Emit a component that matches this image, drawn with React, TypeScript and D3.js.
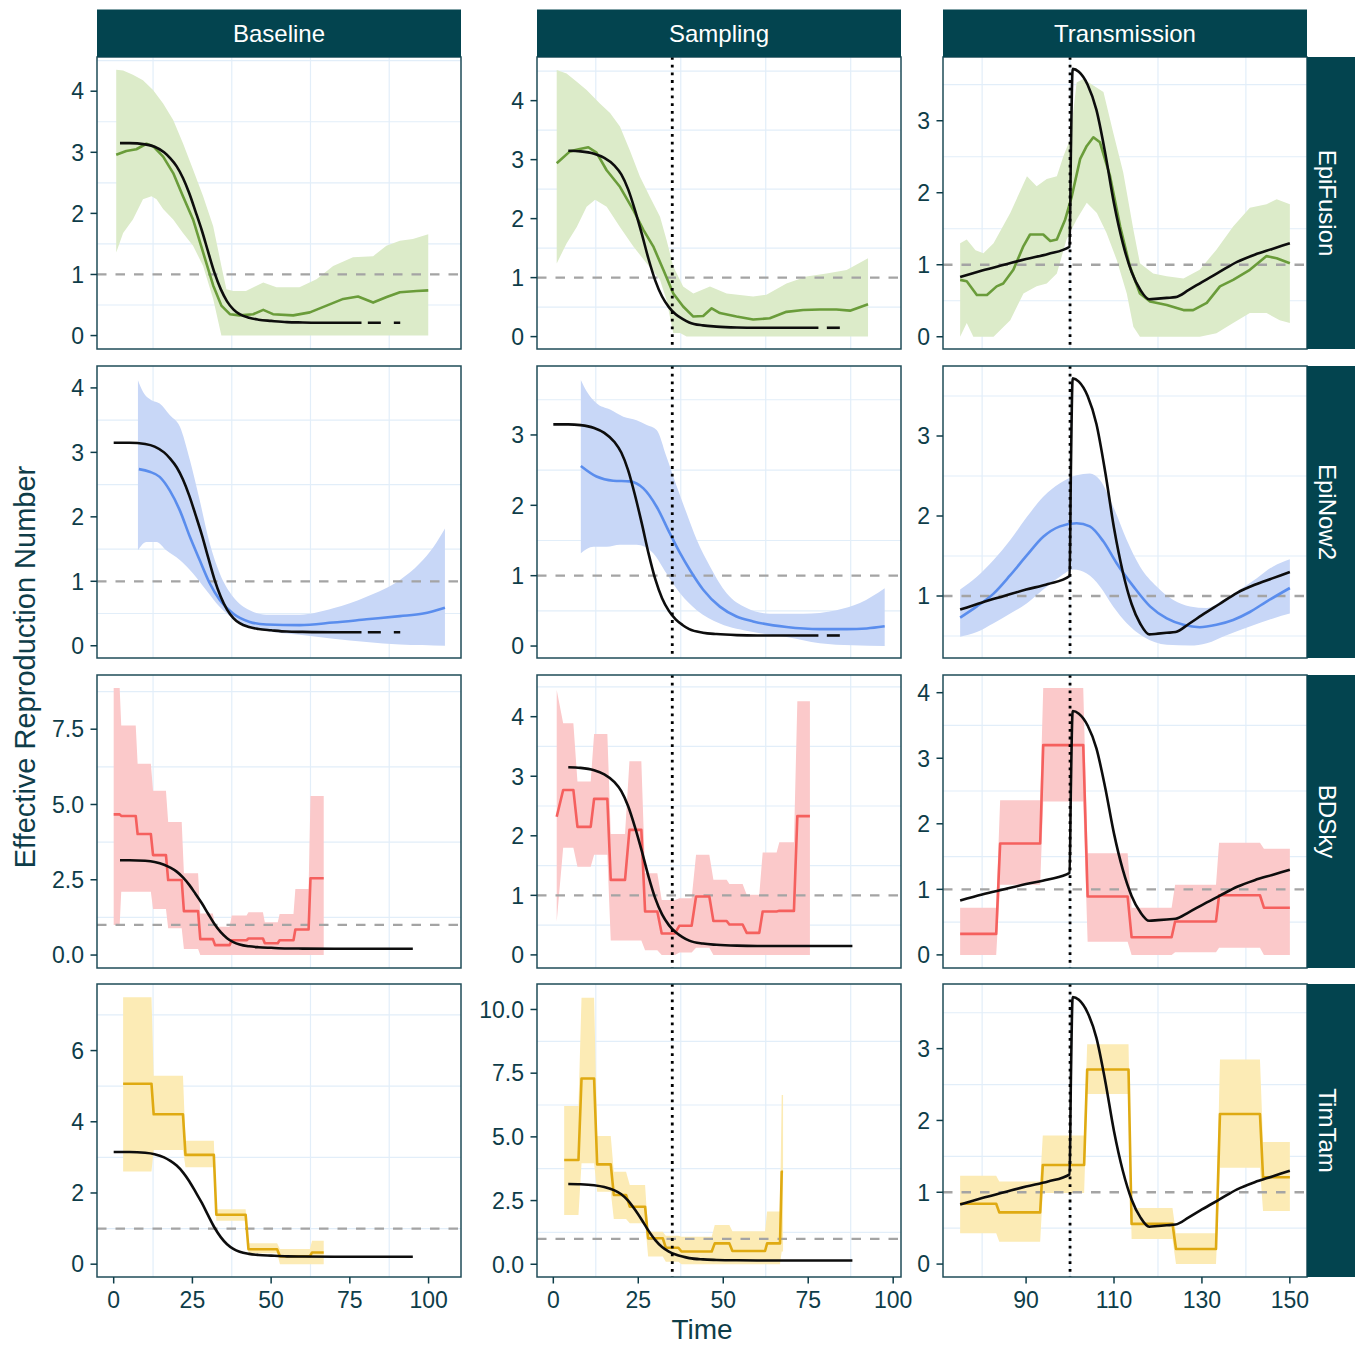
import React, { useEffect, useRef } from 'react';
import * as d3 from 'd3';

// facet labels
const columns = ['Baseline', 'Sampling', 'Transmission'];
const methods = ['EpiFusion', 'EpiNow2', 'BDSky', 'TimTam'];
const xTicks = [[0, 25, 50, 75, 100], [0, 25, 50, 75, 100], [90, 110, 130, 150]];
const interventionT = [null, 35, 100];
const threshold = 1;

// true Rt curves (time, value)
const baseTruthT = [0, 2, 5, 10, 13, 16, 18, 20, 22, 24, 26, 28, 30, 32, 34, 36, 38, 40, 43, 46, 50, 55, 60, 70, 78.7, 91, 95];
const baseTruthR = [3.15, 3.15, 3.15, 3.13, 3.09, 3.0, 2.9, 2.77, 2.58, 2.33, 2.03, 1.72, 1.37, 1.03, 0.76, 0.56, 0.43, 0.35, 0.29, 0.26, 0.24, 0.22, 0.215, 0.21, 0.21, 0.21, 0.21];
const sampTruthT = [0, 4.4, 8, 12, 15, 18, 20, 22, 24, 26, 28, 30, 32, 34, 36, 38, 40, 44, 48, 54, 60, 70, 78, 84.3, 88];
const sampTruthR = [3.15, 3.15, 3.14, 3.1, 3.03, 2.9, 2.75, 2.5, 2.15, 1.75, 1.32, 0.95, 0.68, 0.5, 0.38, 0.3, 0.24, 0.19, 0.17, 0.155, 0.15, 0.15, 0.15, 0.15, 0.15];
const transTruthT = [75, 80, 85, 90, 95, 99.9, 100.2, 100.6, 102, 104, 106, 108, 110, 112, 114, 116, 118, 120, 122, 124, 127, 130, 134, 138, 142, 146, 150];
const transTruthR = [0.83, 0.92, 1.0, 1.08, 1.15, 1.25, 2.6, 3.72, 3.68, 3.5, 3.15, 2.55, 1.85, 1.3, 0.9, 0.65, 0.52, 0.53, 0.54, 0.55, 0.65, 0.76, 0.9, 1.04, 1.14, 1.22, 1.3];

// EpiFusion
const efBaseHi = [[0.8, 4.35], [3, 4.34], [6.1, 4.27], [9.3, 4.18], [12.5, 4.02], [15.7, 3.8], [18.9, 3.53], [22, 3.15], [25.2, 2.72], [28.4, 2.28], [31.6, 1.79], [34.2, 1.14], [35.8, 0.76], [38, 0.73], [42, 0.73], [47.5, 0.87], [51.7, 0.79], [59, 0.79], [64.4, 0.92], [69.7, 1.14], [76, 1.28], [82.4, 1.3], [86.6, 1.47], [90.9, 1.55], [95, 1.58], [99.9, 1.66]];
const efBaseLo = [[0.8, 1.36], [3, 1.68], [6.1, 1.9], [9.3, 2.23], [12, 2.28], [13.6, 2.23], [15.7, 2.07], [18.9, 1.9], [22, 1.68], [25.2, 1.47], [28.4, 1.14], [31.6, 0.6], [34.2, 0], [99.9, 0]];
const efBaseMed = [[0.8, 2.96], [4, 3.02], [7.2, 3.05], [10.4, 3.14], [12.5, 3.1], [15.7, 2.93], [18.9, 2.66], [22, 2.28], [25.2, 1.9], [28.4, 1.36], [31.6, 0.82], [34.2, 0.49], [36.9, 0.35], [40, 0.33], [44.3, 0.35], [47.5, 0.42], [50.6, 0.35], [57, 0.33], [62.3, 0.38], [67.6, 0.49], [72.9, 0.6], [77.6, 0.64], [82.4, 0.54], [86.7, 0.63], [90.9, 0.71], [96.2, 0.73], [99.9, 0.74]];

const efSampHi = [[1, 4.52], [3.9, 4.46], [6.9, 4.32], [9.8, 4.18], [13.7, 3.95], [16.7, 3.79], [19.6, 3.56], [22.5, 3.16], [25.5, 2.71], [28.4, 2.37], [31.4, 2.03], [33.3, 1.64], [35.3, 1.19], [38.2, 0.85], [41.2, 0.73], [46.1, 0.85], [51, 0.73], [58.8, 0.68], [62.7, 0.71], [68.6, 0.9], [74.5, 1.02], [80.4, 1.07], [86.3, 1.13], [92.6, 1.33]];
const efSampLo = [[1, 1.24], [3.9, 1.58], [6.9, 1.86], [9.8, 2.2], [12.3, 2.32], [15.7, 2.2], [19.6, 1.86], [23.5, 1.53], [27.5, 1.24], [31.4, 0.96], [33.3, 0.62], [35.3, 0.06], [37.3, 0.06], [39.2, 0], [92.6, 0]];
const efSampMed = [[1, 2.94], [4.9, 3.14], [7.8, 3.18], [10.3, 3.21], [12.7, 3.12], [15.7, 2.82], [19.6, 2.54], [23.5, 2.15], [26.5, 1.81], [29.4, 1.53], [32.4, 1.13], [35.3, 0.73], [38.2, 0.51], [41.2, 0.34], [44.1, 0.35], [46.6, 0.48], [49, 0.4], [53.9, 0.34], [58.8, 0.29], [63.7, 0.31], [68.6, 0.42], [73.5, 0.45], [78.4, 0.46], [83.3, 0.46], [87.3, 0.44], [92.6, 0.55]];

const efTransHi = [[75, 1.3], [76.5, 1.35], [78.5, 1.2], [80.3, 1.16], [82.6, 1.3], [86.4, 1.72], [90.2, 2.23], [92.4, 2.09], [94.7, 2.19], [97, 2.23], [98.5, 2.51], [100, 2.74], [101.5, 3.53], [103, 3.58], [105.3, 3.49], [107.6, 3.4], [109.8, 2.84], [112.1, 2.28], [114.4, 1.49], [115.9, 1.02], [118.9, 0.88], [122, 0.84], [125.8, 0.81], [129.5, 0.93], [133.3, 1.21], [137.1, 1.53], [140.9, 1.79], [144.7, 1.84], [147, 1.91], [150, 1.84]];
const efTransLo = [[75, 0], [76.5, 0.19], [78, 0], [82.6, 0], [86.4, 0.23], [89.4, 0.6], [92.4, 0.7], [94.7, 0.74], [97, 0.88], [99.2, 1.35], [101.5, 1.63], [103.8, 1.86], [106.1, 1.72], [108.3, 1.44], [110.6, 1.07], [112.9, 0.6], [114.4, 0.14], [115.9, 0], [129.5, 0], [133.3, 0.05], [137.1, 0.19], [140.9, 0.33], [144.7, 0.33], [147.7, 0.23], [150, 0.19]];
const efTransMed = [[75, 0.79], [76.5, 0.77], [78.8, 0.58], [81.1, 0.58], [83.3, 0.7], [84.8, 0.74], [87.1, 0.93], [89.4, 1.26], [90.9, 1.42], [93.9, 1.42], [95.5, 1.33], [97, 1.35], [98.9, 1.63], [100.4, 1.95], [102.3, 2.47], [103.8, 2.65], [105.3, 2.77], [106.8, 2.7], [109.1, 2.23], [111.4, 1.53], [113.6, 0.98], [115.9, 0.6], [118.2, 0.49], [122, 0.44], [125.8, 0.37], [128, 0.37], [131.1, 0.47], [134.1, 0.7], [137.1, 0.79], [140.9, 0.93], [144.7, 1.12], [147, 1.09], [150, 1.02]];

// EpiNow2
const enBaseHi = [[7.7, 4.12], [9.3, 3.94], [12, 3.81], [14.6, 3.76], [17.8, 3.58], [21, 3.4], [24.2, 2.88], [27.3, 2.26], [30.5, 1.59], [33.7, 1.12], [37.9, 0.76], [43.2, 0.55], [48.5, 0.48], [59.1, 0.48], [69.7, 0.58], [80.3, 0.76], [90.9, 1.02], [97.2, 1.28], [101.5, 1.53], [105.2, 1.82]];
const enBaseLo = [[7.7, 1.48], [10.4, 1.61], [13.6, 1.61], [16.7, 1.48], [21, 1.33], [25.2, 1.12], [29.4, 0.86], [33.7, 0.6], [37.9, 0.42], [43.2, 0.29], [48.5, 0.23], [59.1, 0.17], [69.7, 0.11], [80.3, 0.06], [90.9, 0.02], [105.2, 0]];
const enBaseMed = [[8, 2.74], [11.4, 2.7], [14.6, 2.62], [17.8, 2.41], [21, 2.1], [24.2, 1.69], [27.3, 1.33], [30.5, 0.97], [33.7, 0.71], [37.9, 0.5], [43.2, 0.37], [48.5, 0.33], [59.1, 0.32], [69.7, 0.36], [80.3, 0.41], [90.9, 0.46], [98.3, 0.5], [105.2, 0.59]];

const enSampHi = [[8.1, 3.78], [9.8, 3.62], [12.7, 3.45], [16.7, 3.36], [20.6, 3.26], [24.5, 3.21], [27.5, 3.14], [30.4, 3.07], [33.3, 2.69], [36.3, 2.27], [39.2, 1.89], [42.2, 1.51], [46.1, 1.13], [51, 0.75], [56.9, 0.54], [63.7, 0.46], [73.5, 0.46], [83.3, 0.51], [90.2, 0.61], [97.5, 0.82]];
const enSampLo = [[8.1, 1.32], [11.8, 1.41], [15.7, 1.41], [19.6, 1.44], [24.5, 1.44], [29.4, 1.32], [33.3, 1.03], [37.3, 0.75], [42.2, 0.51], [49, 0.32], [58.8, 0.2], [68.6, 0.13], [78.4, 0.04], [88, 0.01], [97.5, 0]];
const enSampMed = [[8.1, 2.56], [12.7, 2.41], [17.6, 2.35], [22.5, 2.34], [26.5, 2.24], [30.4, 1.98], [34.3, 1.6], [37.3, 1.32], [40.2, 1.08], [44.1, 0.8], [49, 0.56], [53.9, 0.42], [58.8, 0.35], [68.6, 0.27], [78.4, 0.24], [86.3, 0.24], [92.2, 0.25], [97.5, 0.28]];

const enTransHi = [[75, 1.08], [78.8, 1.24], [82.6, 1.45], [86.4, 1.7], [90.2, 1.99], [93.9, 2.24], [97.7, 2.41], [101.5, 2.51], [104.5, 2.53], [106.8, 2.45], [109.8, 2.12], [112.9, 1.7], [115.9, 1.37], [119.7, 1.12], [123.5, 0.95], [127.3, 0.87], [131.1, 0.85], [134.8, 0.95], [138.6, 1.08], [142.4, 1.22], [146.2, 1.37], [150, 1.46]];
const enTransLo = [[75, 0.49], [78.8, 0.55], [82.6, 0.66], [86.4, 0.78], [90.2, 0.91], [93.9, 1.08], [97.7, 1.24], [100.8, 1.33], [103.8, 1.28], [106.8, 1.12], [109.8, 0.87], [112.9, 0.66], [116.7, 0.49], [122, 0.39], [127.3, 0.38], [131.1, 0.41], [135.6, 0.51], [140.9, 0.62], [146.2, 0.72], [150, 0.78]];
const enTransMed = [[75, 0.73], [78.8, 0.87], [82.6, 1.03], [86.4, 1.26], [90.2, 1.51], [93.9, 1.74], [97.7, 1.87], [101.5, 1.91], [104.5, 1.87], [107.6, 1.68], [110.6, 1.41], [114.4, 1.12], [118.2, 0.87], [122, 0.72], [125.8, 0.64], [129.5, 0.61], [133.3, 0.64], [137.1, 0.7], [140.9, 0.8], [144.7, 0.93], [150, 1.1]];

// piecewise-constant estimates: [start, end, median, lower, upper]
const bdBase = [[0, 1.9, 4.67, 1.0, 8.87], [2.4, 7.0, 4.62, 2.1, 7.62], [7.6, 11.8, 4.02, 2.1, 6.35], [12.5, 16.6, 3.32, 1.53, 5.46], [17.3, 21.6, 2.49, 0.89, 4.42], [22.3, 26.8, 1.46, 0.2, 2.72], [27.5, 31.5, 0.53, 0, 1.38], [32.2, 36.8, 0.33, 0, 0.94], [37.5, 42.2, 0.49, 0, 1.31], [42.8, 47.4, 0.55, 0, 1.42], [48, 52.1, 0.39, 0, 1.09], [52.7, 57.1, 0.49, 0, 1.36], [57.7, 61.9, 0.85, 0, 2.19], [62.5, 66.7, 2.55, 0, 5.28]];
const bdSamp = [[1.0, 1.0, 2.32, 0.56, 4.45], [2.9, 5.9, 2.77, 1.8, 3.89], [7.1, 11.0, 2.15, 1.48, 2.91], [12.0, 15.9, 2.62, 1.68, 3.71], [16.9, 21.1, 1.26, 0.24, 2.03], [22.4, 25.9, 2.1, 0.24, 3.25], [27.0, 30.6, 0.73, 0.08, 1.37], [31.9, 35.8, 0.36, 0, 0.92], [37.1, 40.7, 0.49, 0.04, 0.95], [42.0, 45.9, 0.98, 0.12, 1.68], [47.1, 51.0, 0.57, 0, 1.26], [51.8, 55.7, 0.51, 0, 1.19], [56.9, 60.6, 0.37, 0, 1.01], [61.6, 65.7, 0.73, 0, 1.72], [66.5, 70.8, 0.74, 0, 1.89], [71.8, 75.5, 2.33, 0, 4.26]];
const bdTrans = [[75, 83.2, 0.32, 0, 0.72], [84.1, 93.2, 1.7, 1.07, 2.36], [93.9, 103, 3.2, 2.34, 4.07], [104, 113.1, 0.89, 0.2, 1.55], [114, 123.1, 0.27, 0, 0.72], [123.9, 133.2, 0.51, 0.04, 1.07], [133.9, 143.2, 0.91, 0.11, 1.71], [144.1, 150, 0.72, 0, 1.62]];

const ttBase = [[3, 12, 5.07, 2.6, 7.5], [12.7, 22, 4.21, 3.21, 5.29], [22.8, 31.8, 3.07, 2.72, 3.47], [32.6, 41.9, 1.39, 1.22, 1.54], [42.8, 51.9, 0.42, 0.31, 0.59], [52.8, 62.3, 0.22, 0, 0.43], [63, 66.7, 0.33, 0, 0.66]];
const ttSamp = [[3.2, 7.4, 4.09, 1.93, 6.21], [8.3, 12, 7.29, 3.96, 10.46], [12.9, 16.9, 3.92, 2.85, 5.03], [17.8, 21.4, 2.72, 1.78, 3.63], [22.5, 27, 2.26, 1.61, 3.11], [27.9, 32.2, 1.02, 0.3, 1.28], [33.1, 36.8, 0.65, 0.1, 1.12], [37.7, 46.6, 0.5, 0, 1.08], [47.5, 51.8, 0.82, 0, 1.54], [52.7, 62.3, 0.52, 0, 1.3], [62.9, 66.7, 0.82, 0, 2.07], [67.2, 67.6, 3.63, 0.5, 6.64]];
const ttTrans = [[75, 83.2, 0.84, 0.43, 1.23], [83.9, 93.2, 0.72, 0.31, 1.15], [93.8, 103.2, 1.38, 0.99, 1.79], [103.9, 113.3, 2.71, 2.37, 3.06], [114, 123.3, 0.56, 0.35, 0.78], [124.1, 133.2, 0.21, 0, 0.43], [134.1, 143.2, 2.09, 1.34, 2.85], [143.9, 150, 1.21, 0.74, 1.7]];

// axis limits and ticks per panel (free scales)
const xLimits = [[-5.3, 110.3], [-4.8, 102.3], [71.1, 153.9]];
const yLimits = [
  [[-0.22, 4.56], [-0.21, 4.74], [-0.17, 3.885]],
  [[-0.19, 4.34], [-0.17, 3.98], [0.225, 3.875]],
  [[-0.43, 9.3], [-0.22, 4.7], [-0.2, 4.27]],
  [[-0.36, 7.87], [-0.5, 11.0], [-0.18, 3.9]],
];
const yTicks = [
  [[0, 1, 2, 3, 4], [0, 1, 2, 3, 4], [0, 1, 2, 3]],
  [[0, 1, 2, 3, 4], [0, 1, 2, 3], [1, 2, 3]],
  [[0, 2.5, 5, 7.5], [0, 1, 2, 3, 4], [0, 1, 2, 3, 4]],
  [[0, 2, 4, 6], [0, 2.5, 5, 7.5, 10], [0, 1, 2, 3]],
];
// truth line extent per panel: [start, solid end, dashed end]
const truthSpan = [
  [[2, 78.7, 91], [4.4, 78, 84.3], [75, 150, 150]],
  [[0, 78.7, 91], [0, 78, 84.3], [75, 150, 150]],
  [[2, 95, 95], [4.4, 88, 88], [75, 150, 150]],
  [[0, 95, 95], [4.4, 88, 88], [75, 150, 150]],
];

const palette = {
  EpiFusion: { line: '#6a9c3a', fill: '#dcebc9' },
  EpiNow2: { line: '#5a8ded', fill: '#c8d7f7' },
  BDSky: { line: '#f5605e', fill: '#fbc9ca' },
  TimTam: { line: '#dfaa12', fill: '#fcebb5' },
};

const colX = [[97, 461], [537, 901], [943, 1307]];
const rowY = [[57, 349], [366, 658], [675, 968], [984, 1277]];
const FONT = "'Liberation Sans', Arial, Helvetica, sans-serif";
const TEAL = '#03444f';
const INK = '#0e3d49';
const LW = 2.6;

const App = () => {
  const ref = useRef<SVGSVGElement>(null);

  useEffect(() => {
    document.body.style.margin = '0';
    const svg = d3.select(ref.current);
    svg.selectAll('*').remove();

    const truths = [d3.zip(baseTruthT, baseTruthR), d3.zip(sampTruthT, sampTruthR), d3.zip(transTruthT, transTruthR)];
    const smooth = [
      [{ hi: efBaseHi, lo: efBaseLo, med: efBaseMed }, { hi: efSampHi, lo: efSampLo, med: efSampMed }, { hi: efTransHi, lo: efTransLo, med: efTransMed }],
      [{ hi: enBaseHi, lo: enBaseLo, med: enBaseMed }, { hi: enSampHi, lo: enSampLo, med: enSampMed }, { hi: enTransHi, lo: enTransLo, med: enTransMed }],
    ];
    const steps = [[bdBase, bdSamp, bdTrans], [ttBase, ttSamp, ttTrans]];

    // minor grid positions: halfway between ticks and half a step beyond the ends
    const minors = (ticks: number[]) => {
      const step = ticks.length > 1 ? ticks[1] - ticks[0] : 1;
      const out = [ticks[0] - step / 2];
      ticks.forEach(t => out.push(t + step / 2));
      return out;
    };

    const tickFmt = (ticks: number[]) => (v: number) =>
      ticks.some(t => t % 1 !== 0) ? d3.format('.1f')(v) : String(v);

    methods.forEach((method, r) => {
      columns.forEach((col, c) => {
        const x = d3.scaleLinear().domain(xLimits[c]).range(colX[c]);
        const y = d3.scaleLinear().domain(yLimits[r][c]).range([rowY[r][1], rowY[r][0]]);
        const [x0, x1] = colX[c];
        const [y0, y1] = rowY[r];
        const g = svg.append('g');
        const clipId = `clip-${r}-${c}`;
        svg.append('clipPath').attr('id', clipId)
          .append('rect').attr('x', x0).attr('y', y0).attr('width', x1 - x0).attr('height', y1 - y0);
        const plot = g.append('g').attr('clip-path', `url(#${clipId})`);

        plot.append('rect').attr('x', x0).attr('y', y0).attr('width', x1 - x0).attr('height', y1 - y0).attr('fill', '#fff');

        // minor grid
        minors(xTicks[c]).filter(v => v > xLimits[c][0] && v < xLimits[c][1]).forEach(v => {
          plot.append('line').attr('x1', x(v)).attr('x2', x(v)).attr('y1', y0).attr('y2', y1)
            .attr('stroke', '#e2eef9').attr('stroke-width', 1.2);
        });
        minors(yTicks[r][c]).filter(v => v > yLimits[r][c][0] && v < yLimits[r][c][1]).forEach(v => {
          plot.append('line').attr('x1', x0).attr('x2', x1).attr('y1', y(v)).attr('y2', y(v))
            .attr('stroke', '#e2eef9').attr('stroke-width', 1.2);
        });

        const colors = palette[method];
        const curve = r === 1 ? d3.curveMonotoneX : d3.curveLinear;
        const line = (cv: any) => d3.line<number[]>().x(d => x(d[0])).y(d => y(d[1])).curve(cv);

        let hi: number[][], lo: number[][], med: number[][];
        if (r < 2) {
          ({ hi, lo, med } = smooth[r][c]);
        } else {
          const segs = steps[r - 2][c];
          hi = segs.flatMap(s => [[s[0], s[4]], [s[1], s[4]]]);
          lo = segs.flatMap(s => [[s[0], s[3]], [s[1], s[3]]]);
          med = segs.flatMap(s => [[s[0], s[2]], [s[1], s[2]]]);
        }

        // credible band
        const up = line(curve)(hi) as string;
        const down = line(curve)(lo.slice().reverse()) as string;
        plot.append('path').attr('d', up + 'L' + down.slice(1) + 'Z').attr('fill', colors.fill).attr('stroke', 'none');

        // Rt = 1 reference
        plot.append('line').attr('x1', x0).attr('x2', x1).attr('y1', y(threshold)).attr('y2', y(threshold))
          .attr('stroke', '#a4a4a4').attr('stroke-width', 2.3).attr('stroke-dasharray', '9.5,9');

        plot.append('path').attr('d', line(curve)(med)).attr('fill', 'none')
          .attr('stroke', colors.line).attr('stroke-width', LW).attr('stroke-linejoin', 'round');

        // true Rt
        const [ts, te, td] = truthSpan[r][c];
        const truth = truths[c];
        plot.append('path').attr('d', line(d3.curveMonotoneX)(truth.filter(d => d[0] >= ts && d[0] <= te)))
          .attr('fill', 'none').attr('stroke', '#0d0d0d').attr('stroke-width', LW).attr('stroke-linejoin', 'round');
        if (td > te) {
          const tail = truth.filter(d => d[0] >= te && d[0] <= td);
          const len = x(td) - x(te);
          plot.append('path').attr('d', line(d3.curveLinear)(tail))
            .attr('fill', 'none').attr('stroke', '#0d0d0d').attr('stroke-width', LW)
            .attr('stroke-dasharray', '13,13').attr('stroke-dashoffset', c === 0 ? 26 - (len - 32.4) : 26 - (len - 13));
        }

        // intervention time
        const it = interventionT[c];
        if (it !== null) {
          plot.append('line').attr('x1', x(it)).attr('x2', x(it)).attr('y1', y0).attr('y2', y1)
            .attr('stroke', '#000').attr('stroke-width', 2.8).attr('stroke-dasharray', '2.8,4.9');
        }

        g.append('rect').attr('x', x0).attr('y', y0).attr('width', x1 - x0).attr('height', y1 - y0)
          .attr('fill', 'none').attr('stroke', '#1f4c58').attr('stroke-width', 1.5);

        // y axis
        const fmt = tickFmt(yTicks[r][c]);
        yTicks[r][c].forEach(v => {
          g.append('line').attr('x1', x0 - 6.5).attr('x2', x0).attr('y1', y(v)).attr('y2', y(v))
            .attr('stroke', INK).attr('stroke-width', 1.5);
          g.append('text').attr('x', x0 - 13).attr('y', y(v)).attr('dy', '0.36em')
            .attr('text-anchor', 'end').attr('font-size', 23).attr('font-family', FONT).attr('fill', INK)
            .text(fmt(v));
        });

        // x axis on the bottom row only
        if (r === methods.length - 1) {
          xTicks[c].forEach(v => {
            g.append('line').attr('x1', x(v)).attr('x2', x(v)).attr('y1', y1).attr('y2', y1 + 6.5)
              .attr('stroke', INK).attr('stroke-width', 1.5);
            g.append('text').attr('x', x(v)).attr('y', y1 + 31).attr('text-anchor', 'middle')
              .attr('font-size', 23).attr('font-family', FONT).attr('fill', INK).text(v);
          });
        }
      });
    });

    // column strips
    columns.forEach((col, c) => {
      const [x0, x1] = colX[c];
      svg.append('rect').attr('x', x0).attr('y', 9.5).attr('width', x1 - x0).attr('height', 47.5).attr('fill', TEAL);
      svg.append('text').attr('x', (x0 + x1) / 2).attr('y', 41.5).attr('text-anchor', 'middle')
        .attr('font-size', 24).attr('font-family', FONT).attr('fill', '#fff').text(col);
    });

    // row strips
    methods.forEach((m, r) => {
      const [y0, y1] = rowY[r];
      svg.append('rect').attr('x', 1307).attr('y', y0).attr('width', 48).attr('height', y1 - y0).attr('fill', TEAL);
      svg.append('text').attr('transform', `translate(1328,${(y0 + y1) / 2}) rotate(90)`)
        .attr('text-anchor', 'middle').attr('dy', '0.36em').attr('font-size', 24).attr('font-family', FONT)
        .attr('fill', '#fff').text(m);
    });

    svg.append('text').attr('transform', 'translate(35,667) rotate(-90)').attr('text-anchor', 'middle')
      .attr('font-size', 29).attr('font-family', FONT).attr('fill', INK).text('Effective Reproduction Number');
    svg.append('text').attr('x', 702).attr('y', 1339).attr('text-anchor', 'middle')
      .attr('font-size', 28).attr('font-family', FONT).attr('fill', INK).text('Time');
  }, []);

  return (
    <svg ref={ref} width={1357} height={1346} style={{ position: 'absolute', left: 0, top: 0, background: '#fff' }} />
  );
};

export default App;
